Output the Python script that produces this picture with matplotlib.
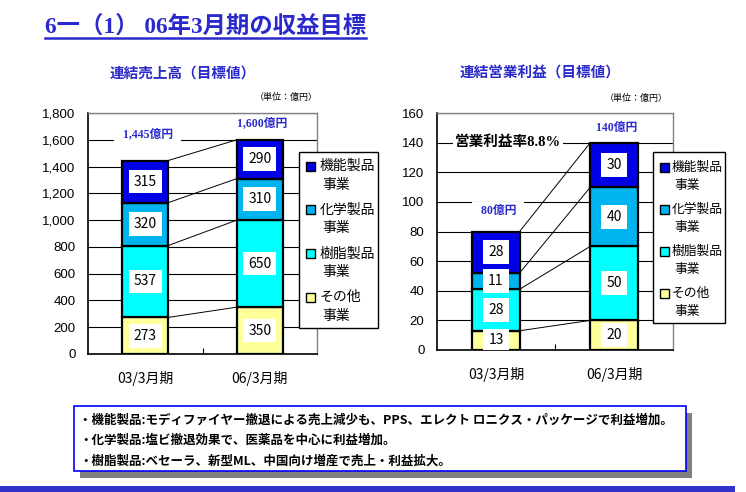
import numpy as np
import matplotlib.pyplot as plt
from matplotlib.patches import Rectangle
from matplotlib.lines import Line2D

JP = ['Noto Sans CJK JP', 'DejaVu Sans']
SERIF_JP = ['Liberation Serif', 'Noto Sans CJK JP', 'DejaVu Sans']
plt.rcParams['font.family'] = JP

# data
categories = ['03/3月期', '06/3月期']
segments = ['その他\n事業', '樹脂製品\n事業', '化学製品\n事業', '機能製品\n事業']
seg_colors = ['#ffff99', '#00ffff', '#00b4f0', '#0000e6']

sales_other = [273, 350]
sales_resin = [537, 650]
sales_chem = [320, 310]
sales_func = [315, 290]
sales_totals = ['1,445億円', '1,600億円']

profit_other = [13, 20]
profit_resin = [28, 50]
profit_chem = [11, 40]
profit_func = [28, 30]
profit_totals = ['80億円', '140億円']

notes = ['・機能製品:モディファイヤー撤退による売上減少も、PPS、エレクト ロニクス・パッケージで利益増加。',
         '・化学製品:塩ビ撤退効果で、医薬品を中心に利益増加。',
         '・樹脂製品:ベセーラ、新型ML、中国向け増産で売上・利益拡大。']

W, H = 746, 492
BLUE = '#2a2acc'


def fx(x):
    return x / W


def fy(y):
    return 1 - y / H


fig = plt.figure(figsize=(W / 100, H / 100), dpi=100)


def stacked(rect, series, ymax, ystep, tick_fmt, totals, total_y, total_dx):
    x0, y0, x1, y1 = rect
    ax = fig.add_axes([fx(x0), fy(y1), fx(x1) - fx(x0), fy(y0) - fy(y1)])
    x = np.arange(len(categories))
    width = 0.4
    bottom = np.zeros(len(categories))
    tops = []
    for vals, color in zip(series, seg_colors):
        vals = np.array(vals, dtype=float)
        ax.bar(x, vals, width, bottom=bottom, color=color,
               edgecolor='black', linewidth=1.6, zorder=3)
        for xi, b, v in zip(x, bottom, vals):
            ax.text(xi, b + v / 2, f'{int(v)}', ha='center', va='center',
                    fontsize=10, zorder=5, clip_on=True,
                    bbox=dict(boxstyle='square,pad=0.35', fc='white', ec='none'))
        bottom = bottom + vals
        tops.append(bottom.copy())
    # connector lines between stacks
    for t in tops:
        ax.plot([x[0] + width / 2, x[1] - width / 2], [t[0], t[1]],
                color='black', linewidth=0.7, zorder=4)
    for xi, lab, ty in zip(x, totals, total_y):
        ax.text(xi + total_dx, ty, '  ' + lab + '  ', ha='center', va='center',
                fontsize=8.5, fontweight='bold', color=BLUE, family=SERIF_JP,
                zorder=6, clip_on=False,
                bbox=dict(boxstyle='square,pad=0.2', fc='white', ec='none'))
    ax.set_xlim(-0.5, 1.5)
    ax.set_ylim(0, ymax)
    ax.set_yticks(np.arange(0, ymax + 1, ystep))
    ax.set_yticklabels([tick_fmt(v) for v in np.arange(0, ymax + 1, ystep)],
                       family=['Liberation Sans'], fontsize=9.5)
    ax.yaxis.grid(True, color='black', linewidth=0.8, zorder=1)
    ax.set_axisbelow(True)
    ax.set_xticks(x)
    ax.set_xticklabels(categories, fontsize=10)
    ax.set_xticks([0.5], minor=True)
    ax.tick_params(axis='both', which='major', length=0)
    ax.tick_params(axis='y', pad=9)
    ax.tick_params(axis='x', pad=12)
    ax.tick_params(axis='x', which='minor', direction='in', length=4, width=0.8)
    for s in ['left', 'bottom']:
        ax.spines[s].set_color('black')
        ax.spines[s].set_linewidth(1.2)
    for s in ['top', 'right']:
        ax.spines[s].set_color('#808080')
        ax.spines[s].set_linewidth(1.0)
    return ax


def legend(box, first_y, step, hx, tx, size):
    x0, y0, x1, y1 = box
    fig.patches.append(Rectangle((fx(x0), fy(y1)), fx(x1) - fx(x0), fy(y0) - fy(y1),
                                 transform=fig.transFigure, fc='white', ec='black',
                                 lw=1.0, zorder=10))
    order = list(range(len(segments)))[::-1]
    for i, k in enumerate(order):
        y = first_y + i * step
        fig.patches.append(Rectangle((fx(hx), fy(y + 4.5)), fx(9), 9 / H,
                                     transform=fig.transFigure, fc=seg_colors[k],
                                     ec='black', lw=1.0, zorder=11))
        l1, l2 = segments[k].split('\n')
        fig.text(fx(tx), fy(y), l1, ha='left', va='center', fontsize=size, zorder=12)
        fig.text(fx(tx + 2), fy(y + 18.5), l2, ha='left', va='center', fontsize=size,
                 zorder=12)


axL = stacked((88, 113, 317, 354), [sales_other, sales_resin, sales_chem, sales_func],
              1800, 200, lambda v: f'{int(v):,}', sales_totals, [1645, 1725], 0.02)
axR = stacked((437, 113, 673, 350), [profit_other, profit_resin, profit_chem, profit_func],
              160, 20, lambda v: f'{int(v)}', profit_totals, [94, 150], 0.02)

axR.text(0.077, 140, '営業利益率8.8%', transform=axR.get_yaxis_transform(),
         ha='left', va='center', fontsize=10.5, fontweight='bold', family=SERIF_JP,
         zorder=6, bbox=dict(boxstyle='square,pad=0.15', fc='white', ec='none'))

legend((299, 152, 378, 328), 166, 43.7, 306, 320, 10)
legend((653, 152, 725, 323), 167, 42, 660, 672, 9.2)

# titles
fig.text(fx(45), fy(33), '6一（1） 06年3月期の収益目標', ha='left', va='baseline',
         fontsize=16.8, fontweight='bold', color=BLUE, family=SERIF_JP)
fig.add_artist(Line2D([fx(45), fx(366)], [fy(37.5), fy(37.5)], color=BLUE, lw=1.8))
fig.text(fx(183), fy(73), '連結売上高（目標値）', ha='center', va='center',
         fontsize=10.5, fontweight='bold', color=BLUE)
fig.text(fx(540), fy(73), '連結営業利益（目標値）', ha='center', va='center',
         fontsize=10.5, fontweight='bold', color=BLUE)
fig.text(fx(318), fy(97), '（単位：億円）', ha='right', va='center', fontsize=6.5)
fig.text(fx(668), fy(98), '（単位：億円）', ha='right', va='center', fontsize=6.5)

# notes box with shadow
fig.patches.append(Rectangle((fx(80), fy(478)), fx(612), 65 / H,
                             transform=fig.transFigure, fc='#808080', ec='none'))
fig.patches.append(Rectangle((fx(74), fy(471)), fx(612), 65 / H,
                             transform=fig.transFigure, fc='white', ec='#0000ff', lw=1.2))
for i, line in enumerate(notes):
    fig.text(fx(79), fy(420 + i * 20.5), line, ha='left', va='center',
             fontsize=9, fontweight='bold')

# bottom bar
fig.patches.append(Rectangle((0, 0), fx(735), 6.5 / H,
                             transform=fig.transFigure, fc='#3333cc', ec='none'))

fig.savefig('out.png', dpi=100)
